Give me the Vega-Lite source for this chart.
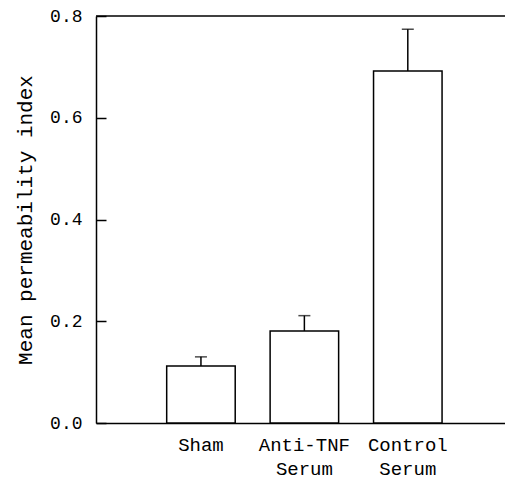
{
  "$schema": "https://vega.github.io/schema/vega-lite/v6.json",
  "autosize": "none",
  "padding": {"left": 96, "top": 16, "right": 0, "bottom": 57},
  "width": 409,
  "height": 407,
  "config": {
    "view": {"stroke": null},
    "font": "Liberation Mono",
    "axis": {"labelFont": "Liberation Mono", "titleFont": "Liberation Mono", "labelColor": "black", "titleColor": "black", "domainColor": "black", "tickColor": "black"}
  },
  "data": {
    "values": [
      {"group": "Sham", "mean": 0.112, "upper": 0.130},
      {"group": "Anti-TNF Serum", "mean": 0.181, "upper": 0.211},
      {"group": "Control Serum", "mean": 0.692, "upper": 0.774}
    ]
  },
  "layer": [
    {
      "mark": {"type": "bar", "fill": "white", "stroke": "black", "strokeWidth": 1.5},
      "encoding": {
        "x": {
          "field": "group",
          "type": "nominal",
          "sort": null,
          "scale": {"paddingInner": 0.3375, "paddingOuter": 0.646, "align": 0.529},
          "axis": {
            "title": null,
            "labelAngle": 0,
            "ticks": false,
            "domainWidth": 1.5,
            "labelFontSize": 19,
            "labelPadding": 12,
            "labelLineHeight": 24,
            "labelExpr": "split(datum.label, ' ')"
          }
        },
        "y": {
          "field": "mean",
          "type": "quantitative",
          "scale": {"domain": [0, 0.8], "nice": false},
          "axis": {
            "title": "Mean permeability index",
            "values": [0, 0.2, 0.4, 0.6, 0.8],
            "format": ".1f",
            "grid": false,
            "tickSize": -10,
            "tickWidth": 1.5,
            "domainWidth": 1.5,
            "labelFontSize": 18,
            "labelPadding": 24,
            "titleFontSize": 21,
            "titleFontWeight": "normal",
            "titlePadding": 14
          }
        }
      }
    },
    {
      "mark": {"type": "rule", "strokeWidth": 1.5},
      "encoding": {
        "x": {"field": "group", "type": "nominal", "sort": null},
        "y": {"field": "mean", "type": "quantitative"},
        "y2": {"field": "upper"}
      }
    },
    {
      "mark": {"type": "tick", "size": 12, "thickness": 1.5, "color": "black"},
      "encoding": {
        "x": {"field": "group", "type": "nominal", "sort": null},
        "y": {"field": "upper", "type": "quantitative"}
      }
    },
    {
      "data": {"values": [{"top": 0.8}]},
      "mark": {"type": "rule", "strokeWidth": 1.5, "color": "black"},
      "encoding": {
        "y": {"field": "top", "type": "quantitative"}
      }
    }
  ]
}
